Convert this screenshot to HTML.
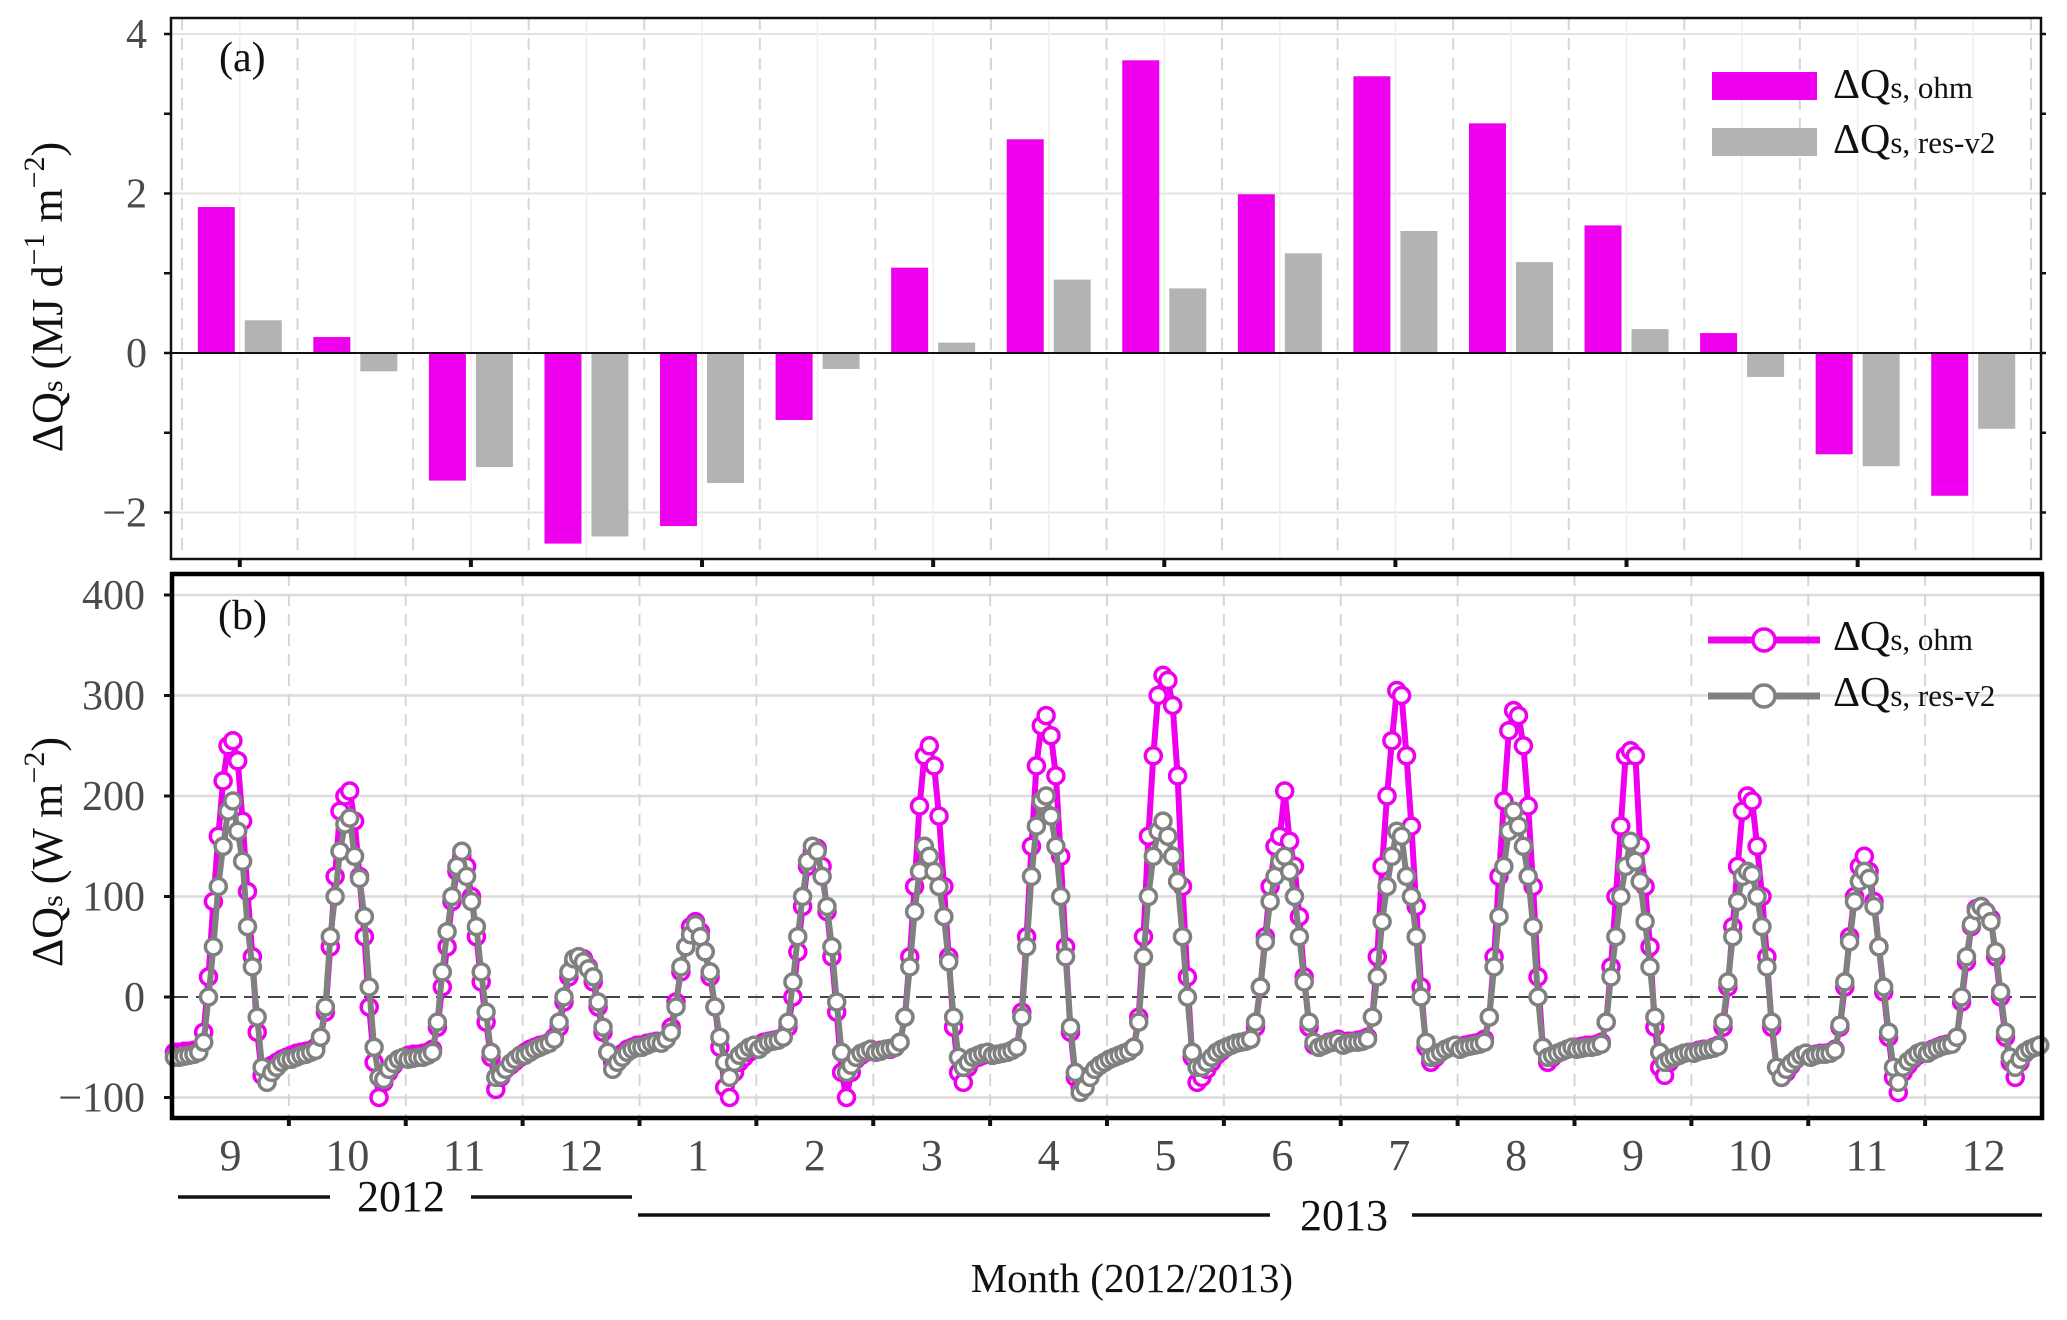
<!DOCTYPE html>
<html><head><meta charset="utf-8"><style>
html,body{margin:0;padding:0;background:#fff;}
svg{display:block;font-family:"Liberation Serif",serif;}
</style></head><body>
<svg id="chart" width="2067" height="1320" viewBox="0 0 2067 1320" xmlns="http://www.w3.org/2000/svg">
<g id="pa"></g>
<g id="pb"></g>
</svg>
<script>
// ---------- data ----------
const monthLabels = ["9","10","11","12","1","2","3","4","5","6","7","8","9","10","11","12"];
const barOhm = [1.83,0.2,-1.6,-2.39,-2.17,-0.84,1.07,2.68,3.67,1.99,3.47,2.88,1.6,0.25,-1.27,-1.79];
const barRes = [0.41,-0.23,-1.43,-2.3,-1.63,-0.2,0.13,0.92,0.81,1.25,1.53,1.14,0.3,-0.3,-1.42,-0.95];
const yTicksA = [4,2,0,-2];
const yTicksB = [400,300,200,100,0,-100];

const ohmM = [
[-55,-55,-54,-54,-53,-52,-35,20,95,160,215,250,255,235,175,105,40,-35,-78,-72,-68,-65,-62,-60],
[-58,-56,-55,-54,-53,-50,-40,-15,50,120,185,200,205,175,120,60,-10,-65,-100,-85,-75,-68,-62,-60],
[-58,-57,-57,-56,-55,-52,-30,10,50,95,125,140,130,100,60,15,-25,-60,-92,-80,-72,-68,-64,-60],
[-55,-52,-50,-48,-47,-45,-40,-30,-5,20,35,40,38,30,15,-10,-35,-55,-65,-60,-56,-52,-50,-48],
[-48,-46,-45,-44,-45,-42,-30,-5,25,50,70,75,65,45,20,-10,-50,-90,-100,-75,-65,-60,-55,-52],
[-48,-45,-44,-43,-42,-40,-30,0,45,90,130,145,148,130,85,40,-15,-75,-100,-75,-62,-58,-55,-52],
[-55,-53,-52,-52,-50,-45,-20,40,110,190,240,250,230,180,110,40,-30,-75,-85,-70,-62,-60,-58,-56],
[-58,-57,-56,-55,-53,-50,-15,60,150,230,270,280,260,220,140,50,-35,-80,-90,-85,-78,-72,-68,-65],
[-62,-60,-58,-56,-54,-50,-20,60,160,240,300,320,315,290,220,110,20,-60,-85,-80,-72,-65,-58,-54],
[-50,-48,-46,-45,-44,-42,-30,10,60,110,150,160,205,155,130,80,20,-30,-48,-50,-48,-45,-44,-42],
[-45,-44,-44,-43,-42,-40,-20,40,130,200,255,305,300,240,170,90,10,-50,-65,-60,-55,-52,-50,-48],
[-50,-48,-47,-46,-45,-42,-20,40,120,195,265,285,280,250,190,110,20,-50,-65,-60,-56,-54,-52,-50],
[-50,-49,-48,-48,-47,-45,-25,30,100,170,240,245,240,150,110,50,-30,-70,-78,-65,-60,-58,-56,-55],
[-55,-53,-52,-52,-50,-48,-30,10,70,130,185,200,195,150,100,40,-30,-70,-80,-75,-68,-62,-58,-56],
[-58,-57,-56,-56,-55,-52,-30,10,60,100,130,140,125,95,50,5,-40,-80,-95,-75,-68,-62,-58,-55],
[-55,-52,-50,-48,-47,-46,-40,-5,35,70,88,90,85,78,40,0,-40,-65,-80,-65,-56,-52,-50,-48]
];
const resM = [
[-60,-60,-59,-58,-57,-55,-45,0,50,110,150,185,195,165,135,70,30,-20,-70,-85,-75,-70,-65,-62],
[-62,-60,-58,-57,-55,-53,-40,-10,60,100,145,172,178,140,118,80,10,-50,-80,-82,-72,-66,-62,-60],
[-62,-61,-60,-60,-58,-55,-25,25,65,100,130,145,120,95,70,25,-15,-55,-80,-78,-72,-66,-62,-58],
[-58,-55,-52,-50,-48,-46,-42,-25,0,25,38,40,35,28,20,-5,-30,-55,-72,-65,-60,-55,-52,-50],
[-50,-48,-46,-45,-46,-42,-35,-10,30,50,62,72,60,45,25,-10,-40,-65,-80,-65,-58,-54,-50,-48],
[-52,-48,-45,-44,-43,-40,-25,15,60,100,135,150,145,120,90,50,-5,-55,-75,-68,-60,-56,-54,-52],
[-55,-54,-52,-51,-50,-45,-20,30,85,125,150,140,125,110,80,35,-20,-60,-70,-65,-60,-58,-56,-55],
[-58,-57,-56,-55,-53,-50,-20,50,120,170,195,200,180,150,100,40,-30,-75,-95,-90,-80,-72,-68,-65],
[-62,-60,-58,-56,-54,-50,-25,40,100,140,165,175,160,140,115,60,0,-55,-70,-70,-65,-60,-55,-52],
[-50,-48,-46,-45,-44,-42,-25,10,55,95,120,135,140,125,100,60,15,-25,-45,-50,-48,-46,-45,-44],
[-48,-46,-45,-45,-44,-42,-20,20,75,110,140,165,160,120,100,60,0,-45,-60,-58,-55,-52,-50,-48],
[-52,-50,-49,-48,-47,-45,-20,30,80,130,165,185,170,150,120,70,0,-50,-60,-58,-56,-54,-52,-50],
[-52,-51,-50,-50,-49,-47,-25,20,60,100,130,155,135,115,75,30,-20,-55,-65,-62,-60,-58,-56,-55],
[-56,-54,-53,-52,-51,-49,-25,15,60,95,120,125,122,100,70,30,-25,-70,-80,-72,-66,-62,-58,-56],
[-60,-58,-57,-57,-56,-53,-28,15,55,95,115,125,118,90,50,10,-35,-70,-85,-70,-64,-60,-56,-54],
[-56,-53,-51,-49,-48,-47,-40,0,40,72,86,90,85,75,45,5,-35,-60,-70,-62,-55,-52,-50,-48]
];

// ---------- helpers ----------
const NS="http://www.w3.org/2000/svg";
function mk(parent,tag,attrs,text){const e=document.createElementNS(NS,tag);for(const k in attrs)e.setAttribute(k,attrs[k]);if(text!==undefined)e.textContent=text;parent.appendChild(e);return e;}

// ---------- panel a ----------
const pa=document.getElementById('pa');
const A={l:171,r:2041,t:18,b:559,bx0:182,bx1:2031};
const ayA=v=>353-v*79.75;
const monthWA=(A.bx1-A.bx0)/monthLabels.length;
const cxA=i=>A.bx0+(i+0.5)*monthWA;
yTicksA.forEach(v=>{ if(v!==0){const g=mk(pa,'line',{x1:A.l,x2:A.r,y1:ayA(v),y2:ayA(v),stroke:'#e3e3e3','stroke-width':2});

}});
for(let i=0;i<=monthLabels.length;i++){const x=A.bx0+i*monthWA;const g=mk(pa,'line',{x1:x,x2:x,y1:A.t,y2:A.b,stroke:'#d6d6d6','stroke-width':2,'stroke-dasharray':'12,8'});

}
for(let i=0;i<monthLabels.length;i++){const g=mk(pa,'line',{x1:cxA(i),x2:cxA(i),y1:A.t,y2:A.b,stroke:'#efefef','stroke-width':1.5});

}
barOhm.forEach((v,i)=>{const y0=ayA(0),y1=ayA(v);const r=mk(pa,'rect',{x:cxA(i)-42,y:Math.min(y0,y1),width:37,height:Math.abs(y1-y0),fill:'#ee00ee'});

});
barRes.forEach((v,i)=>{const y0=ayA(0),y1=ayA(v);const r=mk(pa,'rect',{x:cxA(i)+5,y:Math.min(y0,y1),width:37,height:Math.abs(y1-y0),fill:'#b3b3b3'});

});
const z=mk(pa,'line',{x1:A.l,x2:A.r,y1:ayA(0),y2:ayA(0),stroke:'#111','stroke-width':2});


const fa=mk(pa,'rect',{x:A.l,y:A.t,width:A.r-A.l,height:A.b-A.t,fill:'none',stroke:'#111','stroke-width':2.5});


[4,3,2,1,0,-1,-2].forEach(v=>{const t=mk(pa,'line',{x1:A.l-7,x2:A.l,y1:ayA(v),y2:ayA(v),stroke:'#111','stroke-width':2.5});


const t2=mk(pa,'line',{x1:A.r,x2:A.r+5,y1:ayA(v),y2:ayA(v),stroke:'#111','stroke-width':2.5});

});
yTicksA.forEach(v=>{const t=mk(pa,'text',{x:147,y:ayA(v)+14,'text-anchor':'end','font-size':42,fill:'#4a4a4a'},v<0?'\u2212'+(-v):String(v));

});
for(let i=0;i<monthLabels.length;i+=2){const t=mk(pa,'line',{x1:cxA(i),x2:cxA(i),y1:A.b,y2:A.b+8,stroke:'#111','stroke-width':4});

}
let t=mk(pa,'text',{x:219,y:71,'font-size':42,fill:'#111'},'(a)');


t=mk(pa,'text',{x:0,y:0,'font-size':44,fill:'#111','text-anchor':'middle',transform:'translate(62,297) rotate(-90)'});


t.innerHTML='ΔQ<tspan font-size="30">s</tspan>  (MJ d<tspan dy="-18" font-size="30">−1</tspan><tspan dy="18"> m</tspan><tspan dy="-18" font-size="30">−2</tspan><tspan dy="18">)</tspan>';
let lg=mk(pa,'g',{});


let le=mk(lg,'rect',{x:1712,y:72,width:105,height:28,fill:'#ee00ee'});


le=mk(lg,'rect',{x:1712,y:128,width:105,height:28,fill:'#b3b3b3'});


le=mk(lg,'text',{x:1833,y:98,'font-size':42,fill:'#111'});


le.innerHTML='ΔQ<tspan font-size="31">s, ohm</tspan>';
le=mk(lg,'text',{x:1833,y:153,'font-size':42,fill:'#111'});


le.innerHTML='ΔQ<tspan font-size="31">s, res-v2</tspan>';

// ---------- panel b ----------
const pb=document.getElementById('pb');
const B={l:172,r:2042,t:574,b:1118};
const ayB=v=>997-v*1.005;
const monthWB=(B.r-B.l)/monthLabels.length;
const hx=(m,h)=>B.l+m*monthWB+(h+0.5)/24*monthWB;
yTicksB.forEach(v=>{ if(v!==0){const g=mk(pb,'line',{x1:B.l,x2:B.r,y1:ayB(v),y2:ayB(v),stroke:'#dcdcdc','stroke-width':2.5});

}});
for(let i=1;i<monthLabels.length;i++){const x=B.l+i*monthWB;const g=mk(pb,'line',{x1:x,x2:x,y1:B.t,y2:B.b,stroke:'#d6d6d6','stroke-width':2,'stroke-dasharray':'12,8'});

}
const zb=mk(pb,'line',{x1:B.l,x2:B.r,y1:ayB(0),y2:ayB(0),stroke:'#444','stroke-width':2,'stroke-dasharray':'16,8'});


function drawSeries(arr,color,name){
  let pts=[];arr.forEach((mo,m)=>mo.forEach((v,h)=>pts.push([hx(m,h),ayB(v)])));
  const p=mk(pb,'polyline',{points:pts.map(q=>q[0].toFixed(1)+','+q[1].toFixed(1)).join(' '),fill:'none',stroke:color,'stroke-width':6,'stroke-linejoin':'round'});
  
  
  pts.forEach(q=>{const c=mk(pb,'circle',{cx:q[0].toFixed(1),cy:q[1].toFixed(1),r:8,fill:'#fff',stroke:color,'stroke-width':3.5});
  
  });
}
drawSeries(ohmM,'#ee00ee','ohm');
drawSeries(resM,'#808080','res');
const fb=mk(pb,'rect',{x:B.l,y:B.t,width:B.r-B.l,height:B.b-B.t,fill:'none',stroke:'#000','stroke-width':4.5});


yTicksB.forEach(v=>{const tk=mk(pb,'line',{x1:B.l-8,x2:B.l,y1:ayB(v),y2:ayB(v),stroke:'#111','stroke-width':3});


const tl=mk(pb,'text',{x:145,y:ayB(v)+14,'text-anchor':'end','font-size':42,fill:'#4a4a4a'},v<0?'\u2212'+(-v):String(v));

});
for(let i=1;i<monthLabels.length;i++){const x=B.l+i*monthWB;const tk=mk(pb,'line',{x1:x,x2:x,y1:B.b,y2:B.b+8,stroke:'#111','stroke-width':4});

}
monthLabels.forEach((s,i)=>{const tl=mk(pb,'text',{x:B.l+(i+0.5)*monthWB,y:1170,'text-anchor':'middle','font-size':44,fill:'#4a4a4a'},s);

});
t=mk(pb,'text',{x:218,y:629,'font-size':42,fill:'#111'},'(b)');


t=mk(pb,'text',{x:0,y:0,'font-size':44,fill:'#111','text-anchor':'middle',transform:'translate(62,852) rotate(-90)'});


t.innerHTML='ΔQ<tspan font-size="30">s</tspan> (W m<tspan dy="-18" font-size="30">−2</tspan><tspan dy="18">)</tspan>';
[[178,330,1197],[471,632,1197],[638,1270,1215],[1412,2042,1215]].forEach(s=>{const l=mk(pb,'line',{x1:s[0],x2:s[1],y1:s[2],y2:s[2],stroke:'#111','stroke-width':3.5});

});
t=mk(pb,'text',{x:401,y:1211,'text-anchor':'middle','font-size':44,fill:'#111'},'2012');


t=mk(pb,'text',{x:1344,y:1230,'text-anchor':'middle','font-size':44,fill:'#111'},'2013');


t=mk(pb,'text',{x:1293,y:1292,'text-anchor':'end','font-size':41,fill:'#111'},'Month (2012/2013)');


lg=mk(pb,'g',{});


[['#ee00ee',640,'s, ohm','ohm'],['#808080',696,'s, res-v2','res']].forEach(d=>{
  const l=mk(lg,'line',{x1:1708,x2:1820,y1:d[1],y2:d[1],stroke:d[0],'stroke-width':7});
  
  
  const c=mk(lg,'circle',{cx:1764,cy:d[1],r:11,fill:'#fff',stroke:d[0],'stroke-width':3.5});
  
  
  const tx=mk(lg,'text',{x:1833,y:d[1]+10,'font-size':42,fill:'#111'});
  
  
  tx.innerHTML='ΔQ<tspan font-size="31">'+d[2]+'</tspan>';
});
</script>
</body></html>
